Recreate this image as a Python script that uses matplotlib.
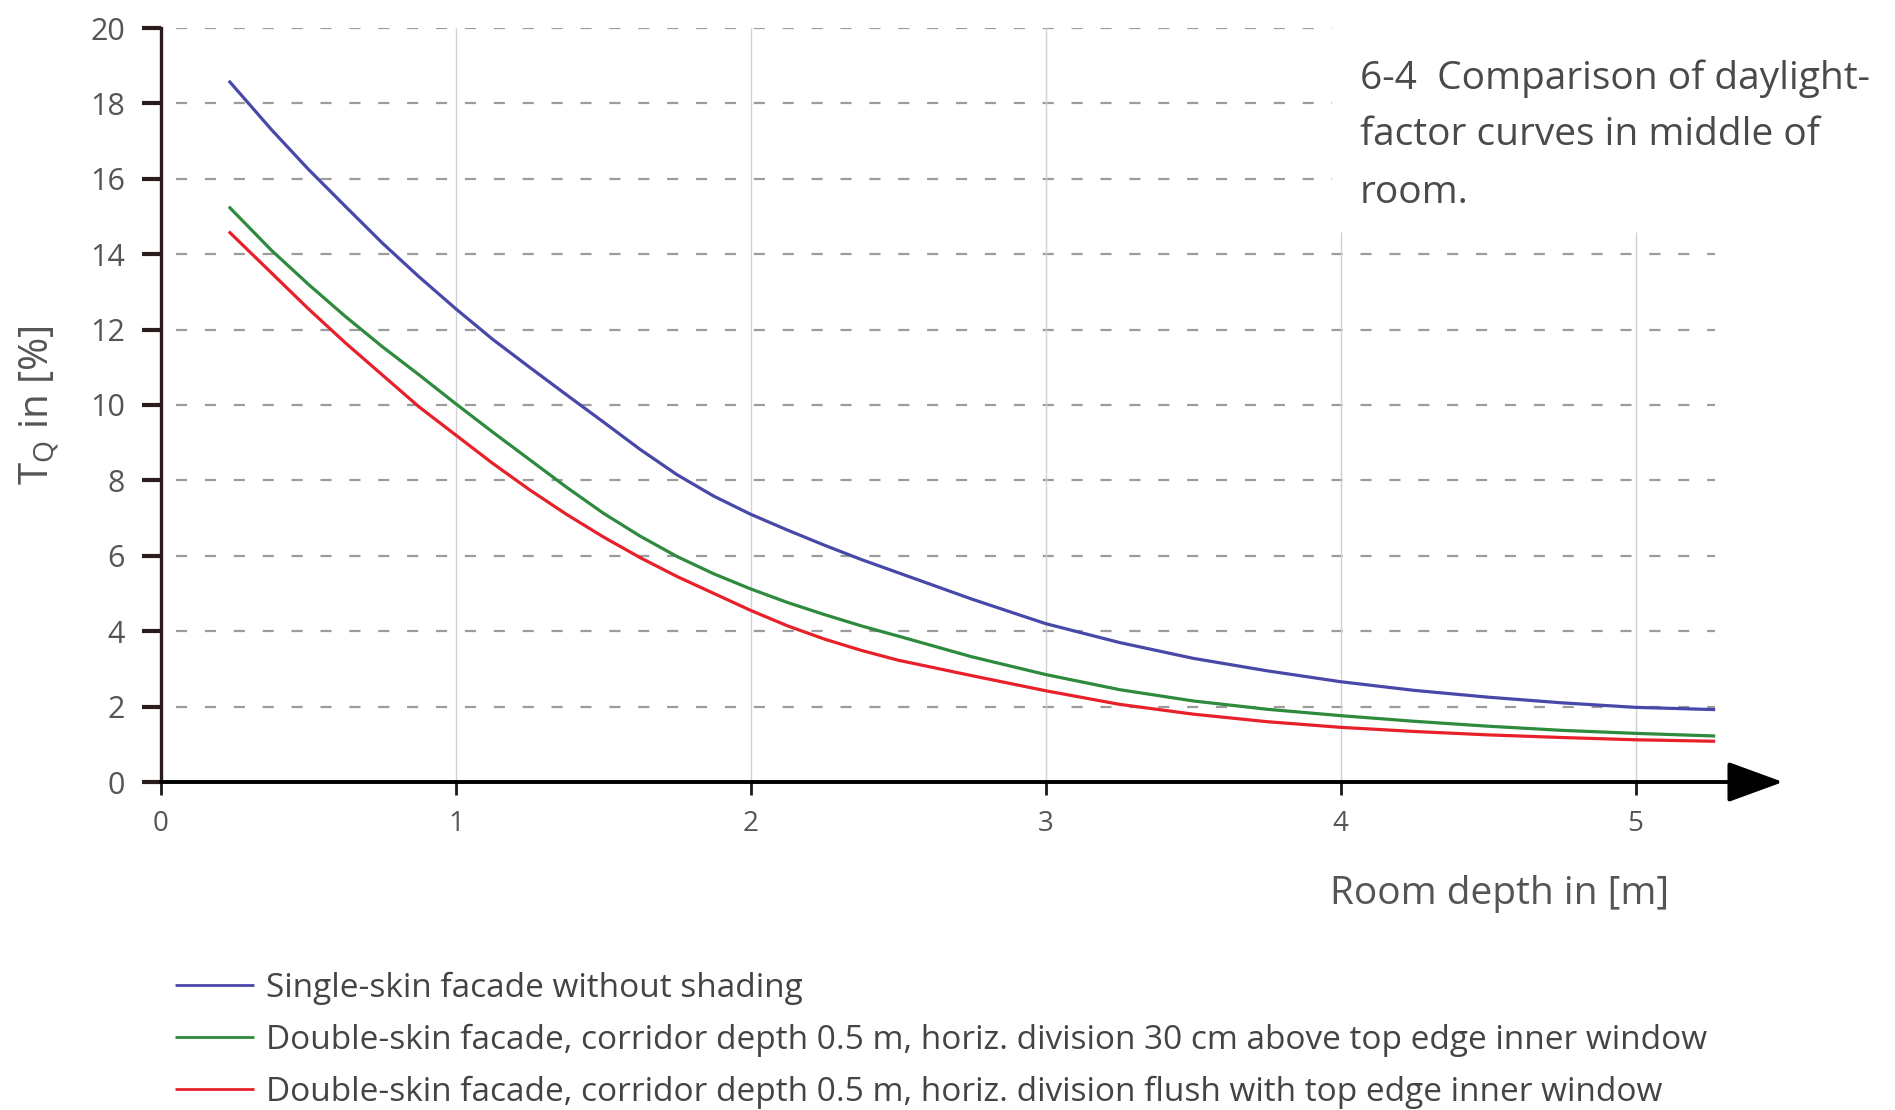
import matplotlib
matplotlib.use('Agg')
import matplotlib.pyplot as plt

# ---- data ----
depth = [0.23, 0.375, 0.5, 0.625, 0.75, 0.875, 1.0, 1.125, 1.25, 1.375, 1.5, 1.625,
         1.75, 1.875, 2.0, 2.125, 2.25, 2.375, 2.5, 2.75, 3.0, 3.25, 3.5, 3.75,
         4.0, 4.25, 4.5, 4.75, 5.0, 5.27]
single_skin = [18.6, 17.3, 16.25, 15.27, 14.3, 13.4, 12.55, 11.74, 11.0, 10.27, 9.55, 8.82,
               8.15, 7.58, 7.1, 6.68, 6.28, 5.9, 5.55, 4.85, 4.2, 3.7, 3.28, 2.95,
               2.66, 2.43, 2.25, 2.1, 1.98, 1.92]
double_30cm = [15.26, 14.1, 13.2, 12.35, 11.55, 10.8, 10.03, 9.28, 8.55, 7.82, 7.13, 6.52,
               5.98, 5.52, 5.12, 4.76, 4.44, 4.14, 3.87, 3.32, 2.85, 2.45, 2.15, 1.93,
               1.76, 1.61, 1.48, 1.37, 1.29, 1.22]
double_flush = [14.6, 13.5, 12.55, 11.65, 10.8, 9.95, 9.2, 8.45, 7.75, 7.1, 6.5, 5.95,
                5.45, 5.0, 4.55, 4.14, 3.79, 3.49, 3.23, 2.82, 2.42, 2.06, 1.8, 1.6,
                1.45, 1.34, 1.25, 1.18, 1.12, 1.08]
series_labels = [
    "Single-skin facade without shading",
    "Double-skin facade, corridor depth 0.5 m, horiz. division 30 cm above top edge inner window",
    "Double-skin facade, corridor depth 0.5 m, horiz. division flush with top edge inner window",
]
series_colors = ["#4848a8", "#2e8a3c", "#e8202a"]
y_ticks = [0, 2, 4, 6, 8, 10, 12, 14, 16, 18, 20]
x_ticks = [0, 1, 2, 3, 4, 5]
grid_long = [2, 4, 6, 8, 10, 12, 14]
grid_short = [16, 18, 20]
vgrid_full = [1, 2, 3]
vgrid_part = [4, 5]
caption_lines = ["6-4  Comparison of daylight-", "factor curves in middle of", "room."]

plt.rcParams['font.family'] = ['Open Sans', 'DejaVu Sans']
plt.rcParams['mathtext.fontset'] = 'custom'
plt.rcParams['mathtext.rm'] = 'Open Sans'

W, H = 1895, 1110
fig = plt.figure(figsize=(W / 100, H / 100), dpi=100)
fig.patch.set_facecolor('white')
left_px, right_px, top_px, bot_px = 161, 1783, 28, 782
ax = fig.add_axes([left_px / W, 1 - bot_px / H, (right_px - left_px) / W, (bot_px - top_px) / H])
ax.set_xlim(0, 5.5)
ax.set_ylim(0, 20)

# grid lines
ax.hlines(grid_long, 0.05, 5.27, colors='#9c9c9c', linestyles=(0, (5, 8)), lw=1.6, zorder=1)
ax.hlines(grid_short, 0.05, 3.97, colors='#9c9c9c', linestyles=(0, (5, 8)), lw=1.6, zorder=1)
ax.vlines(vgrid_full, 0, 20, colors='#d0d0d8', lw=1.0, zorder=1)
ax.vlines(vgrid_part, 0, 14.6, colors='#d0d0d8', lw=1.0, zorder=1)

lines = []
for ys, c, lab in zip([single_skin, double_30cm, double_flush], series_colors, series_labels):
    ln, = ax.plot(depth, ys, color=c, lw=2.3, label=lab, zorder=3,
                  solid_capstyle='butt', solid_joinstyle='round')
    lines.append(ln)

# spines & ticks
for s in ['top', 'right', 'bottom']:
    ax.spines[s].set_visible(False)
ax.spines['left'].set_color('#2a1c1c')
ax.spines['left'].set_linewidth(2.4)
ax.set_yticks(y_ticks)
ax.set_xticks(x_ticks)
ax.tick_params(axis='y', direction='out', length=14, width=3, color='#2a1c1c',
               labelsize=22, labelcolor='#555555', pad=12)
ax.tick_params(axis='x', direction='out', length=9, width=2, color='#1a1a1a',
               labelsize=20, labelcolor='#555555', pad=11)

# x-axis with arrow
ax.annotate('', xy=(1.0, 0), xycoords='axes fraction', xytext=(0, 0),
            textcoords='axes fraction',
            arrowprops=dict(arrowstyle='-|>,head_length=1.15,head_width=0.42',
                            lw=2.8, color='black', shrinkA=0, shrinkB=0,
                            mutation_scale=30),
            annotation_clip=False, zorder=4)

# axis labels
ax.text(-0.075, 0.5, r'T$_\mathrm{Q}$ in [%]', transform=ax.transAxes, rotation=90,
        ha='center', va='center', fontsize=29, color='#555555')
ax.text(0.825, -0.149, 'Room depth in [m]', transform=ax.transAxes,
        ha='center', va='center', fontsize=28, color='#555555')

# caption
for yy, t in zip([79, 135, 193], caption_lines):
    fig.text(1360 / W, 1 - yy / H, t, ha='left', va='center', fontsize=28, color='#4a4a4a')

# legend
leg = fig.legend(handles=lines, loc='center left', bbox_to_anchor=(175 / W, 1 - 1040 / H),
                 bbox_transform=fig.transFigure, frameon=False, fontsize=24,
                 handlelength=2.37, handletextpad=0.36, labelspacing=0.56,
                 borderpad=0, borderaxespad=0)
for t in leg.get_texts():
    t.set_color('#444444')
for h in leg.legend_handles:
    h.set_linewidth(2.0)

fig.savefig('out.png', dpi=100, facecolor='white')
